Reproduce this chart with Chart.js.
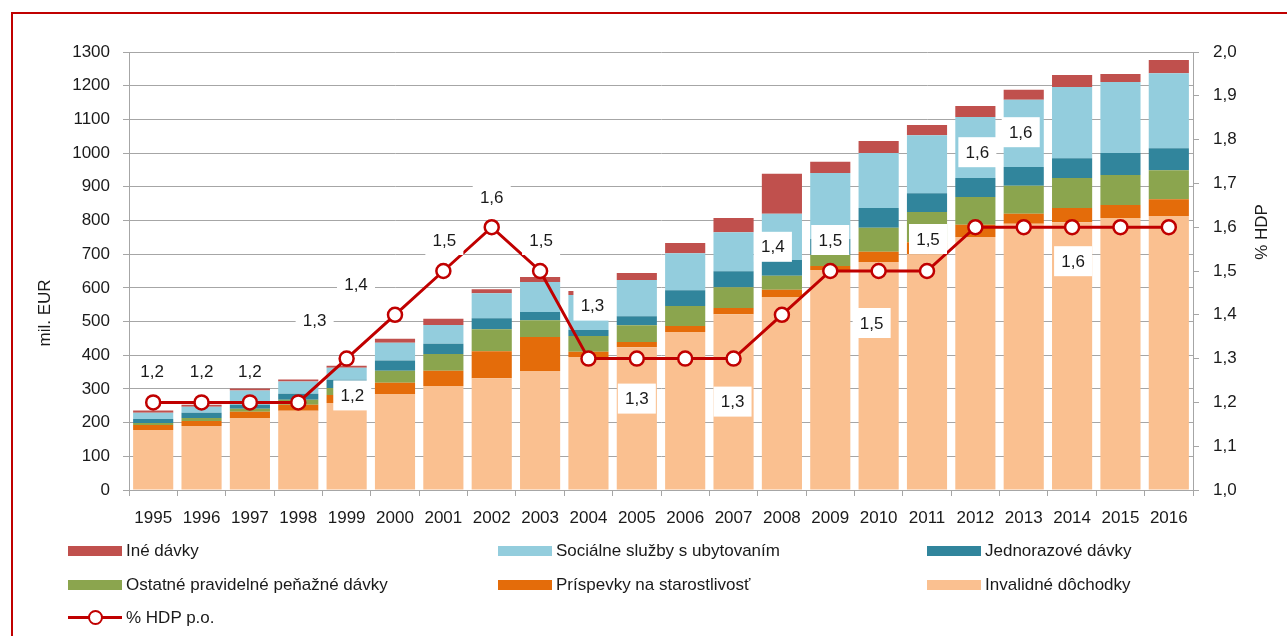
<!DOCTYPE html>
<html lang="sk">
<head>
  <meta charset="UTF-8">
  <title>Výdavky na invaliditu</title>
  <script src="https://cdn.jsdelivr.net/npm/chart.js"></script>
  <style>
    body {
      margin: 0;
      background: #fff;
      font-family: "Liberation Sans", Arial, sans-serif;
    }
    .wrap {
      position: relative;
      width: 1287px;
      height: 636px;
      overflow: hidden;
    }
    .frame {
      position: absolute;
      left: 11px;
      top: 12px;
      width: 1300px;
      height: 700px;
      border-left: 2px solid #c00000;
      border-top: 2px solid #c00000;
    }
    canvas {
      position: absolute;
      left: 0;
      top: 0;
    }
    .legend-item {
      position: absolute;
      height: 20px;
      line-height: 20px;
      font-size: 17px;
      color: #1a1a1a;
      white-space: nowrap;
    }
    .legend-item .box {
      position: absolute;
      left: 0;
      top: 5px;
      width: 54px;
      height: 10px;
    }
    .legend-item .txt {
      position: absolute;
      left: 58px;
      top: 0;
    }
    .legend-item .ln {
      position: absolute;
      left: 0;
      top: 8px;
      width: 54px;
      height: 3px;
      background: #c00000;
    }
    .legend-item .dot {
      position: absolute;
      left: 20px;
      top: 2px;
      width: 11px;
      height: 11px;
      border: 2px solid #c00000;
      border-radius: 50%;
      background: #fff;
    }
  </style>
</head>
<body>
<div class="wrap">
  <div class="frame"></div>
  <canvas id="chart" width="1287" height="636"></canvas>
  <div id="legend"></div>
</div>
<script>
  // roky
  var years = ['1995', '1996', '1997', '1998', '1999', '2000', '2001', '2002', '2003', '2004', '2005',
               '2006', '2007', '2008', '2009', '2010', '2011', '2012', '2013', '2014', '2015', '2016'];

  // mil. EUR, odčítané z grafu
  var invalidne  = [178, 190, 214, 235, 258, 285, 309, 332, 353, 395, 424, 469, 522, 573, 653, 677, 700, 751, 790, 795, 807, 813];
  var prispevky  = [15, 15, 18, 18, 24, 33, 45, 80, 101, 15, 15, 18, 18, 21, 12, 30, 35, 36, 30, 42, 39, 50];
  var ostatne    = [6, 9, 9, 15, 21, 36, 50, 65, 50, 47, 50, 59, 62, 42, 33, 71, 90, 83, 83, 89, 89, 86];
  var jednorazove = [12, 15, 12, 18, 24, 30, 30, 33, 24, 18, 27, 47, 47, 47, 47, 59, 56, 56, 56, 59, 65, 65];
  var socialne   = [18, 18, 42, 36, 36, 53, 56, 74, 89, 104, 107, 110, 116, 137, 196, 163, 172, 181, 199, 211, 211, 223];
  var ine        = [7, 6, 6, 6, 6, 12, 18, 12, 15, 12, 21, 30, 42, 119, 33, 36, 30, 33, 30, 36, 24, 39];

  // % HDP
  var hdp = [1.2, 1.2, 1.2, 1.2, 1.3, 1.4, 1.5, 1.6, 1.5, 1.3, 1.3, 1.3, 1.3, 1.4, 1.5, 1.5, 1.5, 1.6, 1.6, 1.6, 1.6, 1.6];

  // posun popisov od bodu (px), null = bez popisu
  var labelOffsets = [[-1, -31], [0, -31], [0, -31], [54, -7], [-32, -38], [-39, -30], [1, -31], [0, -30],
                      [1, -31], [4, -53], [0, 40], null, [-1, 43], [-9, -68], [0, -31], [-7, 52], [1, -32],
                      [2, -75], [-3, -95], [1, 34], null, null];

  var FONT = '"Liberation Sans", Arial, sans-serif';
  var GRID = '#a6a6a6';
  var TEXT = '#1a1a1a';

  function fmt(v) {
    return v.toFixed(1).replace('.', ',');
  }

  // popisy hodnot v bielych rámčekoch
  var valueLabels = {
    id: 'valueLabels',
    afterDatasetsDraw: function(chart) {
      var meta = chart.getDatasetMeta(6);
      var ctx = chart.ctx;
      ctx.save();
      ctx.font = '17px ' + FONT;
      ctx.textAlign = 'center';
      ctx.textBaseline = 'middle';
      meta.data.forEach(function(pt, i) {
        var off = labelOffsets[i];
        if (!off) return;
        var x = pt.x + off[0], y = pt.y + off[1];
        ctx.fillStyle = '#fff';
        ctx.fillRect(x - 19, y - 15, 38, 30);
        ctx.fillStyle = TEXT;
        ctx.fillText(fmt(hdp[i]), x, y + 1);
      });
      ctx.restore();
    }
  };

  // názvy osí
  var axisTitles = {
    id: 'axisTitles',
    afterDraw: function(chart) {
      var ctx = chart.ctx;
      ctx.save();
      ctx.font = '17px ' + FONT;
      ctx.fillStyle = TEXT;
      ctx.textAlign = 'center';
      ctx.textBaseline = 'middle';
      ctx.translate(45, 313);
      ctx.rotate(-Math.PI / 2);
      ctx.fillText('mil. EUR', 0, 0);
      ctx.restore();
      ctx.save();
      ctx.font = '17px ' + FONT;
      ctx.fillStyle = TEXT;
      ctx.textAlign = 'center';
      ctx.textBaseline = 'middle';
      ctx.translate(1262, 232);
      ctx.rotate(-Math.PI / 2);
      ctx.fillText('% HDP', 0, 0);
      ctx.restore();
    }
  };

  function bar(label, data, color) {
    return {
      type: 'bar',
      label: label,
      data: data,
      backgroundColor: color,
      stack: 's',
      order: 1,
      categoryPercentage: 1,
      barPercentage: 0.83
    };
  }

  var ctx = document.getElementById('chart').getContext('2d');
  var chart = new Chart(ctx, {
    data: {
      labels: years,
      datasets: [
        bar('Invalidné dôchodky', invalidne, '#fac090'),
        bar('Príspevky na starostlivosť', prispevky, '#e46c0a'),
        bar('Ostatné pravidelné peňažné dávky', ostatne, '#8ba54e'),
        bar('Jednorazové dávky', jednorazove, '#31859c'),
        bar('Sociálne služby s ubytovaním', socialne, '#93cddd'),
        bar('Iné dávky', ine, '#c0504d'),
        {
          type: 'line',
          label: '% HDP p.o.',
          data: hdp,
          yAxisID: 'y1',
          borderColor: '#c00000',
          borderWidth: 3,
          pointRadius: 7,
          pointBorderWidth: 2.5,
          pointBackgroundColor: '#fff',
          pointBorderColor: '#c00000',
          order: 0
        }
      ]
    },
    options: {
      responsive: false,
      animation: false,
      devicePixelRatio: 1,
      layout: {
        padding: { left: 0, right: 0, top: 52, bottom: 101 }
      },
      plugins: {
        legend: { display: false },
        tooltip: { enabled: false }
      },
      scales: {
        x: {
          stacked: true,
          afterFit: function(s) { s.height = 45; },
          grid: {
            offset: true,
            drawOnChartArea: false,
            drawTicks: true,
            tickLength: 6,
            tickColor: GRID
          },
          border: { display: true, color: GRID },
          ticks: {
            color: TEXT,
            font: { family: FONT, size: 17 },
            padding: 12,
            maxRotation: 0,
            autoSkip: false
          }
        },
        y: {
          stacked: true,
          position: 'left',
          min: 0,
          max: 1300,
          afterFit: function(s) { s.width = 129; },
          grid: {
            color: GRID,
            tickLength: 6,
            tickColor: GRID
          },
          border: { display: true, color: GRID },
          ticks: {
            stepSize: 100,
            color: TEXT,
            font: { family: FONT, size: 17 },
            padding: 13,
            callback: function(v) { return String(v); }
          }
        },
        y1: {
          position: 'right',
          min: 1,
          max: 2,
          afterFit: function(s) { s.width = 94; },
          grid: {
            drawOnChartArea: false,
            tickLength: 6,
            tickColor: GRID
          },
          border: { display: true, color: GRID },
          ticks: {
            stepSize: 0.1,
            color: TEXT,
            font: { family: FONT, size: 17 },
            padding: 14,
            callback: function(v) { return fmt(v); }
          }
        }
      }
    },
    plugins: [valueLabels, axisTitles]
  });

  // legenda
  var legendItems = [
    { label: 'Iné dávky', color: '#c0504d', x: 68, y: 541 },
    { label: 'Sociálne služby s ubytovaním', color: '#93cddd', x: 498, y: 541 },
    { label: 'Jednorazové dávky', color: '#31859c', x: 927, y: 541 },
    { label: 'Ostatné pravidelné peňažné dávky', color: '#8ba54e', x: 68, y: 575 },
    { label: 'Príspevky na starostlivosť', color: '#e46c0a', x: 498, y: 575 },
    { label: 'Invalidné dôchodky', color: '#fac090', x: 927, y: 575 },
    { label: '% HDP p.o.', line: true, x: 68, y: 608 }
  ];
  var legend = document.getElementById('legend');
  legendItems.forEach(function(it) {
    var d = document.createElement('div');
    d.className = 'legend-item';
    d.style.left = it.x + 'px';
    d.style.top = it.y + 'px';
    if (it.line) {
      d.innerHTML = '<span class="ln"></span><span class="dot"></span><span class="txt"></span>';
    } else {
      d.innerHTML = '<span class="box" style="background:' + it.color + '"></span><span class="txt"></span>';
    }
    d.querySelector('.txt').textContent = it.label;
    legend.appendChild(d);
  });
</script>
</body>
</html>
